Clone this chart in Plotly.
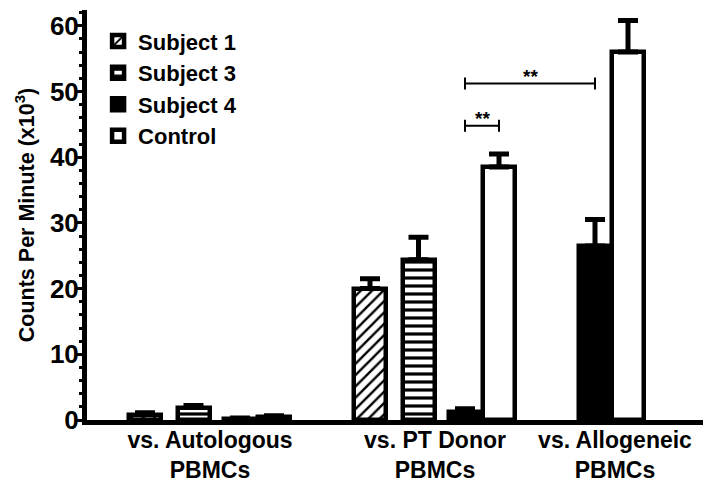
import plotly.graph_objects as go

# ---------------- data ----------------
groups = ["vs. Autologous<br>PBMCs", "vs. PT Donor<br>PBMCs", "vs. Allogeneic<br>PBMCs"]
series_names = ["Subject 1", "Subject 3", "Subject 4", "Control"]

subject1 = [0.8, 20.0, None]
subject1_err = [0.3, 1.5, None]
subject3 = [1.9, 24.4, None]
subject3_err = [0.3, 3.4, None]
subject4 = [0.2, 1.2, 26.5]
subject4_err = [0.1, 0.5, 4.0]
control = [0.45, 38.5, 56.0]
control_err = [0.2, 2.0, 4.8]

y_tick_values = [0, 10, 20, 30, 40, 50, 60]

# significance comparisons: (group A, series A, group B, series B, level, label)
sig_brackets = [
    (1, "Subject 4", 1, "Control", 44.8, "**"),
    (1, "Subject 4", 2, "Subject 4", 51.2, "**"),
]

# ---------------- style ----------------
FONT = "Liberation Sans, Arial, sans-serif"
W, H = 714, 485
M_L, M_R, M_T, M_B = 87, 11, 10, 65
PX_PER_CAT = 225.0            # pixel distance between category centres
FIRST_CAT_PX = 210.0          # pixel x of first category centre
BAR_W_PX = 32.0
LINE_W = 4.5
# bar centre offsets from the category centre, in pixels (per group)
slot_px = {
    "Subject 1": [-65, -65, -65],
    "Subject 3": [-16.5, -16.5, -16.5],
    "Subject 4": [30, 30, -65],
    "Control": [64, 64, -32],
}
label_shift = [0.0, 0.0, -0.2]   # tick label shift for each group (category units)

styles = {
    "Subject 1": dict(color="white", pattern=dict(shape="/", fgcolor="black", bgcolor="white",
                                                  size=8, solidity=0.3, fillmode="replace")),
    "Subject 3": dict(color="white", pattern=dict(shape="-", fgcolor="black", bgcolor="white",
                                                  size=8, solidity=0.4, fillmode="replace")),
    "Subject 4": dict(color="black", pattern=None),
    "Control": dict(color="white", pattern=None),
}

values = {"Subject 1": (subject1, subject1_err), "Subject 3": (subject3, subject3_err),
          "Subject 4": (subject4, subject4_err), "Control": (control, control_err)}

plot_w = W - M_L - M_R
x_lo = -(FIRST_CAT_PX - M_L) / PX_PER_CAT
x_hi = x_lo + plot_w / PX_PER_CAT
bar_w = BAR_W_PX / PX_PER_CAT

fig = go.Figure()
for name in series_names:
    vals, errs = values[name]
    st = styles[name]
    marker = dict(color=st["color"], line=dict(color="black", width=LINE_W))
    if st["pattern"]:
        marker["pattern"] = st["pattern"]
    offsets = [(c - BAR_W_PX / 2) / PX_PER_CAT for c in slot_px[name]]
    fig.add_trace(go.Bar(
        name=name, x=groups, y=vals, width=bar_w, offset=offsets,
        marker=marker, legendgroup=name,
        error_y=dict(type="data", array=[e if e is not None else 0 for e in errs],
                     arrayminus=[0] * len(errs), symmetric=False,
                     color="black", thickness=5, width=10),
    ))


def bar_centre(gi, name):
    return gi + slot_px[name][gi] / PX_PER_CAT


for ga, sa, gb, sb, level, label in sig_brackets:
    xa, xb = bar_centre(ga, sa), bar_centre(gb, sb)
    fig.add_shape(type="line", xref="x", yref="y", x0=xa, x1=xb, y0=level, y1=level,
                  line=dict(color="black", width=2))
    for xx in (xa, xb):
        fig.add_shape(type="line", xref="x", yref="y", x0=xx, x1=xx,
                      ysizemode="pixel", yanchor=level, y0=-6, y1=6,
                      line=dict(color="black", width=2))
    fig.add_annotation(x=(xa + xb) / 2, y=level, xref="x", yref="y", text=label,
                       showarrow=False, yanchor="bottom", yshift=-5,
                       font=dict(family=FONT, size=19, color="black", weight="bold"))

fig.update_layout(
    width=W, height=H, margin=dict(l=M_L, r=M_R, t=M_T, b=M_B, autoexpand=False),
    paper_bgcolor="white", plot_bgcolor="white",
    barmode="overlay", bargap=0,
    font=dict(family=FONT, color="black", weight="bold"),
    showlegend=True,
    legend=dict(x=0.018, y=0.975, xanchor="left", yanchor="top",
                font=dict(family=FONT, size=22, color="black", weight="bold"),
                bgcolor="rgba(0,0,0,0)", tracegroupgap=4, traceorder="normal"),
    xaxis=dict(type="category", range=[x_lo, x_hi], showline=True, linewidth=5,
               linecolor="black", ticks="", showgrid=False, zeroline=False,
               automargin=False, ticklabelstandoff=-5,
               tickmode="array", tickvals=[i + s for i, s in enumerate(label_shift)],
               ticktext=groups,
               tickfont=dict(family=FONT, size=23, color="black", weight="bold")),
    yaxis=dict(range=[0, 62.4], showline=True, linewidth=5, linecolor="black",
               automargin=False, ticklabelstandoff=-7,
               ticks="outside", ticklen=5, tickwidth=3, tickcolor="black",
               tickmode="array", tickvals=y_tick_values,
               minor=dict(dtick=2, tick0=0, ticks="outside", ticklen=3, tickwidth=3,
                          tickcolor="black", showgrid=False),
               showgrid=False, zeroline=False,
               tickfont=dict(family=FONT, size=26, color="black", weight="bold"),
               title=dict(text="Counts Per Minute (x10<sup>3</sup>)", standoff=11,
                          font=dict(family=FONT, size=21.5, color="black", weight="bold"))),
)

fig.write_html("out.html", config={"displayModeBar": False},
               post_script="document.body.style.margin='0';")
